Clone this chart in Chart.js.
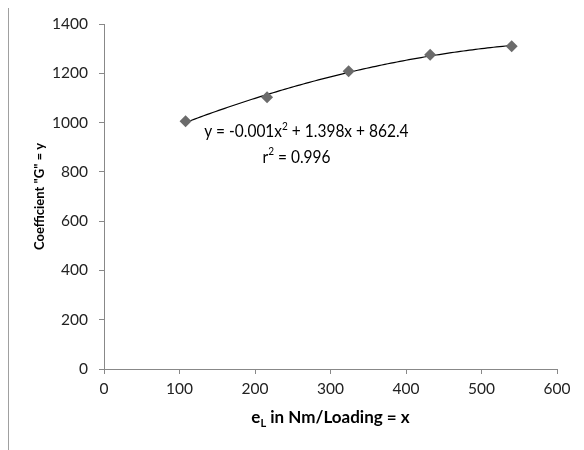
<!DOCTYPE html>
<html>
<head>
<meta charset="utf-8">
<script src="https://cdn.jsdelivr.net/npm/chart.js@4.4.1/dist/chart.umd.min.js"></script>
<style>
  html, body { margin: 0; padding: 0; background: #fff; }
  #wrap { width: 584px; height: 450px; }
</style>
</head>
<body>
<div id="wrap"><canvas id="coefChart" width="584" height="450"></canvas></div>
<script>
// measured points: loading e_L vs coefficient G
const loadings = [108, 216, 324, 432, 540];
const coefG = [1005, 1103, 1208, 1275, 1310];
const xTicks = [0, 100, 200, 300, 400, 500, 600];
const yTicks = [0, 200, 400, 600, 800, 1000, 1200, 1400];
// text runs: [text, isSuperscript]
const eqRuns = [['y = -0.001x', false], ['2', true], [' + 1.398x + 862.4', false]];
const r2Runs = [['r', false], ['2', true], [' = 0.996', false]];

const FONT = 'Lato, "Open Sans", sans-serif';

// least squares quadratic fit through the points, for the trendline
function quadFit(xs, ys) {
    let s = [0, 0, 0, 0, 0], t = [0, 0, 0];
    xs.forEach((x, i) => {
        for (let k = 0; k < 5; k++) s[k] += Math.pow(x, k);
        for (let k = 0; k < 3; k++) t[k] += ys[i] * Math.pow(x, k);
    });
    const m = [[s[0], s[1], s[2], t[0]], [s[1], s[2], s[3], t[1]], [s[2], s[3], s[4], t[2]]];
    for (let i = 0; i < 3; i++) {
        for (let j = i + 1; j < 3; j++) {
            const f = m[j][i] / m[i][i];
            for (let k = i; k < 4; k++) m[j][k] -= f * m[i][k];
        }
    }
    const c = [0, 0, 0];
    for (let i = 2; i >= 0; i--) {
        let v = m[i][3];
        for (let k = i + 1; k < 3; k++) v -= m[i][k] * c[k];
        c[i] = v / m[i][i];
    }
    return x => c[0] + c[1] * x + c[2] * x * x;
}

const fit = quadFit(loadings, coefG);
const trend = [];
for (let x = loadings[0]; x <= loadings[loadings.length - 1]; x += 4) {
    trend.push({ x: x, y: fit(x) });
}

// draws runs of text centred on cx, superscripts raised and smaller
function drawRuns(ctx, runs, cx, cy, size, squeeze) {
    const fontFor = sup => (sup ? size * 0.65 : size) + 'px ' + FONT;
    let total = 0;
    runs.forEach(([t, sup]) => { ctx.font = fontFor(sup); total += ctx.measureText(t).width; });
    ctx.save();
    ctx.translate(cx, cy);
    ctx.scale(squeeze, 1);
    let x = -total / 2;
    ctx.textAlign = 'left';
    ctx.textBaseline = 'alphabetic';
    runs.forEach(([t, sup]) => {
        ctx.font = fontFor(sup);
        ctx.fillText(t, x, sup ? size * 0.35 - size * 0.42 : size * 0.35);
        x += ctx.measureText(t).width;
    });
    ctx.restore();
}

// axis titles, equation text and the frame line on the left
const decorations = {
    id: 'decorations',
    afterDraw(chart) {
        const ctx = chart.ctx;
        const xs = chart.scales.x, ys = chart.scales.y;
        ctx.save();

        ctx.strokeStyle = '#a0a0a0';
        ctx.lineWidth = 1;
        ctx.beginPath();
        ctx.moveTo(8.5, 8);
        ctx.lineTo(8.5, 450);
        ctx.stroke();

        ctx.fillStyle = '#000';
        drawRuns(ctx, eqRuns, xs.getPixelForValue(268), ys.getPixelForValue(965), 18, 0.86);
        drawRuns(ctx, r2Runs, xs.getPixelForValue(255), ys.getPixelForValue(862), 18, 0.86);

        // y title
        ctx.textBaseline = 'middle';
        ctx.textAlign = 'center';
        ctx.font = 'bold 13px ' + FONT;
        ctx.translate(40, (ys.top + ys.bottom) / 2);
        ctx.rotate(-Math.PI / 2);
        ctx.fillText('Coefficient "G" = y', 0, 0);
        ctx.setTransform(1, 0, 0, 1, 0, 0);

        // x title with subscript L
        const main = 'e', sub = 'L', rest = ' in Nm/Loading = x';
        ctx.font = 'bold 17px ' + FONT;
        const wMain = ctx.measureText(main).width;
        const wRest = ctx.measureText(rest).width;
        ctx.font = 'bold 11px ' + FONT;
        const wSub = ctx.measureText(sub).width;
        const total = wMain + wSub + wRest;
        let px = (xs.left + xs.right) / 2 - total / 2;
        const py = 418;
        ctx.textAlign = 'left';
        ctx.font = 'bold 17px ' + FONT;
        ctx.fillText(main, px, py);
        px += wMain;
        ctx.font = 'bold 11px ' + FONT;
        ctx.fillText(sub, px, py + 5);
        px += wSub;
        ctx.font = 'bold 17px ' + FONT;
        ctx.fillText(rest, px, py);
        ctx.restore();
    }
};

new Chart(document.getElementById('coefChart'), {
    type: 'scatter',
    data: {
        datasets: [{
            label: 'trend',
            data: trend,
            showLine: true,
            borderColor: '#000',
            borderWidth: 1.2,
            pointRadius: 0,
            tension: 0,
            order: 2
        }, {
            label: 'G',
            data: loadings.map((x, i) => ({ x: x, y: coefG[i] })),
            pointStyle: 'rectRot',
            pointRadius: 6,
            backgroundColor: '#6b6b6b',
            borderColor: '#6b6b6b',
            borderWidth: 0,
            order: 1
        }]
    },
    options: {
        responsive: false,
        animation: false,
        layout: { padding: { top: 24, right: 27, left: 0, bottom: 0 } },
        plugins: { legend: { display: false }, tooltip: { enabled: false } },
        scales: {
            x: {
                type: 'linear',
                min: 0, max: 600,
                afterBuildTicks: s => { s.ticks = xTicks.map(v => ({ value: v })); },
                afterFit: s => { s.height = 81; },
                border: { color: '#888', width: 1 },
                grid: { drawOnChartArea: false, tickLength: 5, color: '#888' },
                ticks: { color: '#222', padding: 6, callback: v => String(v), font: { family: FONT, size: 15.5 } }
            },
            y: {
                type: 'linear',
                min: 0, max: 1400,
                afterBuildTicks: s => { s.ticks = yTicks.map(v => ({ value: v })); },
                afterFit: s => { s.width = 104; },
                border: { color: '#888', width: 1 },
                grid: { drawOnChartArea: false, tickLength: 5, color: '#888' },
                ticks: { color: '#222', padding: 11, callback: v => String(v), font: { family: FONT, size: 15.5 } }
            }
        }
    },
    plugins: [decorations]
});
</script>
</body>
</html>
